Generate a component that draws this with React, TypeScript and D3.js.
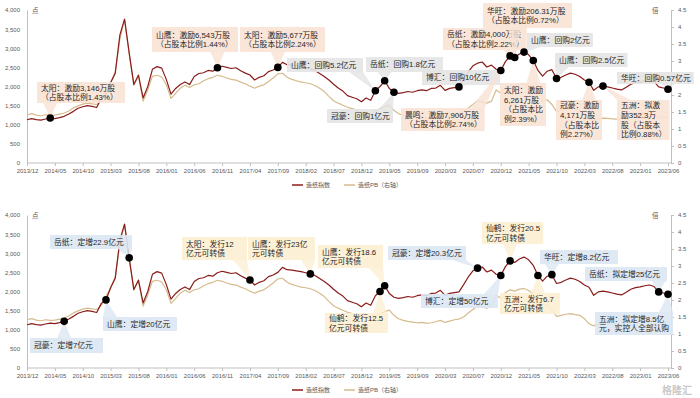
import React, { useEffect, useRef } from "react";
import * as d3 from "d3";

// x-axis labels, one every 6 samples
const categories = [
  "2013/12", "2014/05", "2014/10", "2015/03", "2015/08", "2016/01", "2016/06", "2016/11",
  "2017/04", "2017/09", "2018/02", "2018/07", "2018/12", "2019/05", "2019/09", "2020/03",
  "2020/07", "2020/12", "2021/05", "2021/10", "2022/03", "2022/08", "2023/01", "2023/06"
];
const STEP = 6;

// 造纸指数 (left axis)
const indexValues = [
  1130, 1160, 1135, 1120, 1150, 1175, 1160, 1185, 1220, 1280,
  1350, 1430, 1470, 1500, 1480, 1450, 1690, 1780, 2100, 2350,
  3350, 3760, 2880, 2050, 2300, 1700, 2000, 2450, 2520, 2480,
  2180, 1800, 1950, 2050, 2120, 2050, 2260, 2340, 2360, 2420,
  2400, 2490, 2530, 2500, 2470, 2490, 2410, 2350, 2300, 2170,
  2240, 2280, 2390, 2430, 2500, 2630, 2570, 2560, 2540, 2520,
  2490, 2460, 2420, 2340, 2260, 2170, 2060, 1960, 1880, 1760,
  1720, 1680, 1600, 1700, 1640, 1890, 2000, 2150, 1950, 1850,
  1820, 1840, 1870, 1850, 1890, 1910, 1890, 1950, 1960, 2030,
  1900, 1950, 1970, 1990, 2180, 2380, 2540, 2610, 2640, 2510,
  2560, 2450, 2420, 2650, 2800, 2760, 2850, 2900, 2830, 2680,
  2420, 2270, 2400, 2440, 2210, 2240, 2300, 2350, 2320, 2260,
  2170, 2110, 1900, 1990, 2010, 1990, 1960, 1930, 1910, 1980,
  2060, 2100, 2120, 2150, 2170, 2130, 1990, 1960, 1930
];

// 造纸PB (right axis)
const pbValues = [
  1.42, 1.45, 1.41, 1.39, 1.42, 1.40, 1.41, 1.44, 1.47, 1.53,
  1.62, 1.68, 1.73, 1.76, 1.74, 1.72, 1.84, 2.10, 2.35, 2.68,
  3.65, 4.22, 3.20, 2.30, 2.55, 1.82, 2.15, 2.55, 2.58, 2.53,
  2.30, 1.90, 2.05, 2.20, 2.29, 2.22, 2.30, 2.33, 2.42, 2.48,
  2.52, 2.58, 2.55, 2.50, 2.46, 2.44, 2.38, 2.33, 2.26, 2.20,
  2.26, 2.30, 2.40, 2.50, 2.62, 2.64, 2.52, 2.46, 2.42, 2.38,
  2.36, 2.33, 2.28, 2.20, 2.10, 1.96, 1.83, 1.76, 1.70, 1.64,
  1.60, 1.56, 1.50, 1.47, 1.44, 1.52, 1.60, 1.66, 1.70, 1.55,
  1.45, 1.40, 1.37, 1.35, 1.33, 1.34, 1.31, 1.33, 1.36, 1.40,
  1.34, 1.38, 1.42, 1.44, 1.50, 1.62, 1.72, 1.83, 1.80, 1.76,
  1.82, 2.15, 2.05, 2.22, 2.30, 2.26, 2.32, 2.34, 2.28, 2.18,
  1.95, 1.80, 1.86, 1.72, 1.52, 1.55, 1.58, 1.60, 1.57, 1.55,
  1.45, 1.30, 1.24, 1.30, 1.32, 1.31, 1.30, 1.29, 1.33, 1.36,
  1.40, 1.43, 1.44, 1.46, 1.44, 1.40, 1.36, 1.34, 1.35
];

const leftTicks = [0, 500, 1000, 1500, 2000, 2500, 3000, 3500, 4000];
const rightTicks = [0, 0.5, 1, 1.5, 2, 2.5, 3, 3.5, 4, 4.5];

// upper panel: incentives and buybacks
const topEventIdx = [5, 41, 54, 75, 77, 79, 93, 102, 104, 105, 107, 109, 114, 121, 124, 138];
const topEventText = [
  "太阳：激励3,146万股\n（占股本比例1.43%）",
  "山鹰：激励6,543万股\n（占股本比例1.44%）",
  "太阳：激励5,677万股\n（占股本比例2.24%）",
  "山鹰：回购5.2亿元",
  "岳纸：回购1.8亿元",
  "冠豪：回购1亿元",
  "博汇：回购10亿元",
  "晨鸣：激励7,906万股\n（占股本比例2.74%）",
  "岳纸：激励4,000万股\n（占股本比例2.22%）",
  "华旺：激励206.31万股\n（占股本比例0.72%）",
  "山鹰：回购2亿元",
  "太阳：激励\n6,261万股\n（占股本比\n例2.39%）",
  "山鹰：回购2.5亿元",
  "冠豪：激励\n4,171万股\n（占股本比\n例2.27%）",
  "五洲：拟激\n励352.3万\n股（占股本\n比例0.88%）",
  "华旺：回购0.57亿元"
];
// lower panel: placements and convertible bonds
const bottomEventIdx = [8, 17, 22, 48, 61, 76, 77, 97, 102, 104, 110, 113, 136, 138];
const bottomEventText = [
  "冠豪：定增7亿元",
  "山鹰：定增20亿元",
  "岳纸：定增22.9亿元",
  "太阳：发行12\n亿元可转债",
  "山鹰：发行23亿\n元可转债",
  "仙鹤：发行12.5\n亿元可转债",
  "山鹰：发行18.6\n亿元可转债",
  "冠豪：定增20.3亿元",
  "博汇：定增50亿元",
  "仙鹤：发行20.5\n亿元可转债",
  "五洲：发行6.7\n亿元可转债",
  "华旺：定增8.2亿元",
  "岳纸：拟定增25亿元",
  "五洲：拟定增8.5亿\n元，实控人全部认购"
];

// callout box layout [x, y, w, h] inside each panel
const topBoxes = [
  [37, 82, 88, 21], [152, 27, 86, 25], [240, 27, 85, 25], [287, 58, 76, 14],
  [366, 57, 77, 15], [327, 109, 66, 14], [422, 70, 78, 15], [401, 108, 82, 23],
  [443, 28, 83, 22], [483, 3, 89, 25], [527, 33, 63, 14], [500, 83, 43, 43],
  [555, 53, 72, 14], [556, 100, 44, 40], [617, 100, 44, 40], [617, 72, 73, 12]
];
const bottomBoxes = [
  [30, 133, 73, 15], [103, 112, 74, 14], [50, 30, 82, 14], [182, 32, 65, 23],
  [248, 32, 67, 23], [325, 108, 63, 20], [318, 40, 65, 23], [388, 41, 78, 14],
  [421, 89, 77, 14], [482, 17, 60, 22], [500, 88, 60, 21], [540, 45, 78, 14],
  [585, 62, 82, 14], [595, 107, 78, 23]
];

const FONT = "'Liberation Sans', 'Noto Sans CJK SC', sans-serif";
const RED = "#8a1c1c";
const TAN = "#d6bb8c";

const boxFill = (t: string) =>
  t.includes("回购") ? "#e4e4e4" : t.includes("可转债") ? "#fcefd2" : t.includes("定增") ? "#dce7f3" : "#f9e2d5";

const App = () => {
  const ref = useRef<SVGSVGElement>(null);

  useEffect(() => {
    const svg = d3.select(ref.current);
    svg.selectAll("*").remove();

    const x = d3.scaleLinear().domain([0, indexValues.length - 1]).range([27, 668]);
    const yL = d3.scaleLinear().domain([0, 4000]).range([163, 10]);
    const yR = d3.scaleLinear().domain([0, 4.5]).range([163, 10]);

    const panels = [
      { dy: 0, idx: topEventIdx, text: topEventText, boxes: topBoxes },
      { dy: 205, idx: bottomEventIdx, text: bottomEventText, boxes: bottomBoxes }
    ];

    panels.forEach(p => {
      const g = svg.append("g").attr("transform", `translate(0,${p.dy})`)
        .style("font-family", FONT);

      // left axis
      const la = g.append("g").attr("transform", "translate(27,0)")
        .call(d3.axisLeft(yL).tickValues(leftTicks).tickFormat(d3.format(",")).tickSize(0).tickPadding(7));
      la.select(".domain").attr("stroke", "#bfbfbf");
      la.selectAll("text").attr("fill", "#595959").style("font-size", "6px").style("font-family", FONT);

      // right axis
      const ra = g.append("g").attr("transform", "translate(671,0)")
        .call(d3.axisRight(yR).tickValues(rightTicks).tickFormat(d => String(d)).tickSize(3).tickSizeOuter(0).tickPadding(4));
      ra.select(".domain").attr("stroke", "#bfbfbf");
      ra.selectAll("line").attr("stroke", "#bfbfbf");
      ra.selectAll("text").attr("fill", "#595959").style("font-size", "6px").style("font-family", FONT);

      // bottom axis
      const xa = g.append("g").attr("transform", "translate(0,163)")
        .call(d3.axisBottom(x).tickValues(categories.map((_, k) => k * STEP))
          .tickFormat(d => categories[(d as number) / STEP]).tickSize(3).tickSizeOuter(0).tickPadding(3));
      xa.select(".domain").remove();
      xa.selectAll("line").attr("stroke", "#bfbfbf");
      xa.selectAll("text").attr("fill", "#595959").style("font-size", "6px").style("font-family", FONT);
      g.append("line").attr("x1", 27).attr("x2", 671).attr("y1", 163).attr("y2", 163).attr("stroke", "#bfbfbf");

      g.append("text").attr("x", 32).attr("y", 13).text("点").attr("fill", "#595959").style("font-size", "6.5px");
      g.append("text").attr("x", 652).attr("y", 13).text("倍").attr("fill", "#595959").style("font-size", "6.5px");

      // series
      const pbLine = d3.line<number>().x((_, i) => x(i)).y(d => yR(d));
      const idxLine = d3.line<number>().x((_, i) => x(i)).y(d => yL(d));
      g.append("path").datum(pbValues).attr("d", pbLine).attr("fill", "none")
        .attr("stroke", TAN).attr("stroke-width", 1.2).attr("stroke-linejoin", "round");
      g.append("path").datum(indexValues).attr("d", idxLine).attr("fill", "none")
        .attr("stroke", RED).attr("stroke-width", 1.2).attr("stroke-linejoin", "round");

      // callouts
      p.idx.forEach((ei, k) => {
        const [bx, by, bw0, bh] = p.boxes[k];
        const t = p.text[k];
        const lines = t.split("\n");
        const fill = boxFill(t);
        const mx = x(ei), my = yL(indexValues[ei]);

        const cg = g.append("g");
        const wedge = cg.append("path");
        const rect = cg.append("rect");
        const txt = cg.append("text").attr("fill", "#262626").style("font-size", "7.8px");
        const lh = 9.6;
        const top = by + (bh - lines.length * lh) / 2 + 7.6;
        lines.forEach((ln, j) => {
          txt.append("tspan").attr("x", bx + 4).attr("y", top + j * lh).text(ln);
        });
        let tw = 0;
        txt.selectAll<SVGTSpanElement, unknown>("tspan").each(function () {
          tw = Math.max(tw, this.getComputedTextLength());
        });
        const bw = Math.max(bw0, tw + 7);
        rect.attr("x", bx).attr("y", by).attr("width", bw).attr("height", bh)
          .attr("fill", fill).attr("opacity", 0.9);

        const hw = 7;
        let pts: [number, number][];
        if (my > by + bh) {
          const c = Math.max(bx + hw, Math.min(bx + bw - hw, mx));
          pts = [[c - hw, by + bh], [c + hw, by + bh], [mx, my]];
        } else if (my < by) {
          const c = Math.max(bx + hw, Math.min(bx + bw - hw, mx));
          pts = [[c - hw, by], [c + hw, by], [mx, my]];
        } else if (mx < bx) {
          const c = Math.max(by + 4, Math.min(by + bh - 4, my));
          pts = [[bx, c - 5], [bx, c + 5], [mx, my]];
        } else {
          const c = Math.max(by + 4, Math.min(by + bh - 4, my));
          pts = [[bx + bw, c - 5], [bx + bw, c + 5], [mx, my]];
        }
        wedge.attr("d", "M" + pts.map(q => q.join(",")).join("L") + "Z")
          .attr("fill", fill).attr("opacity", 0.8);
      });

      // event markers
      g.selectAll("circle.ev").data(p.idx).join("circle").attr("class", "ev")
        .attr("cx", d => x(d)).attr("cy", d => yL(indexValues[d])).attr("r", 3.8).attr("fill", "#000");

      // legend
      const lg = g.append("g").attr("transform", "translate(0,185)").style("font-size", "6px");
      lg.append("line").attr("x1", 292).attr("x2", 303).attr("stroke", RED).attr("stroke-width", 1.5);
      lg.append("text").attr("x", 306).attr("y", 2.2).text("造纸指数").attr("fill", "#595959");
      lg.append("line").attr("x1", 344).attr("x2", 355).attr("stroke", TAN).attr("stroke-width", 1.5);
      lg.append("text").attr("x", 358).attr("y", 2.2).text("造纸PB（右轴）").attr("fill", "#595959");
    });

    svg.append("text").attr("x", 662).attr("y", 394).text("格隆汇")
      .attr("fill", "#c9c9c9").style("font-family", FONT).style("font-size", "10px").style("font-weight", "bold");
  }, []);

  return (
    <svg ref={ref} width={700} height={398}
      style={{ position: "absolute", left: 0, top: 0, background: "#fff" }} />
  );
};

export default App;
